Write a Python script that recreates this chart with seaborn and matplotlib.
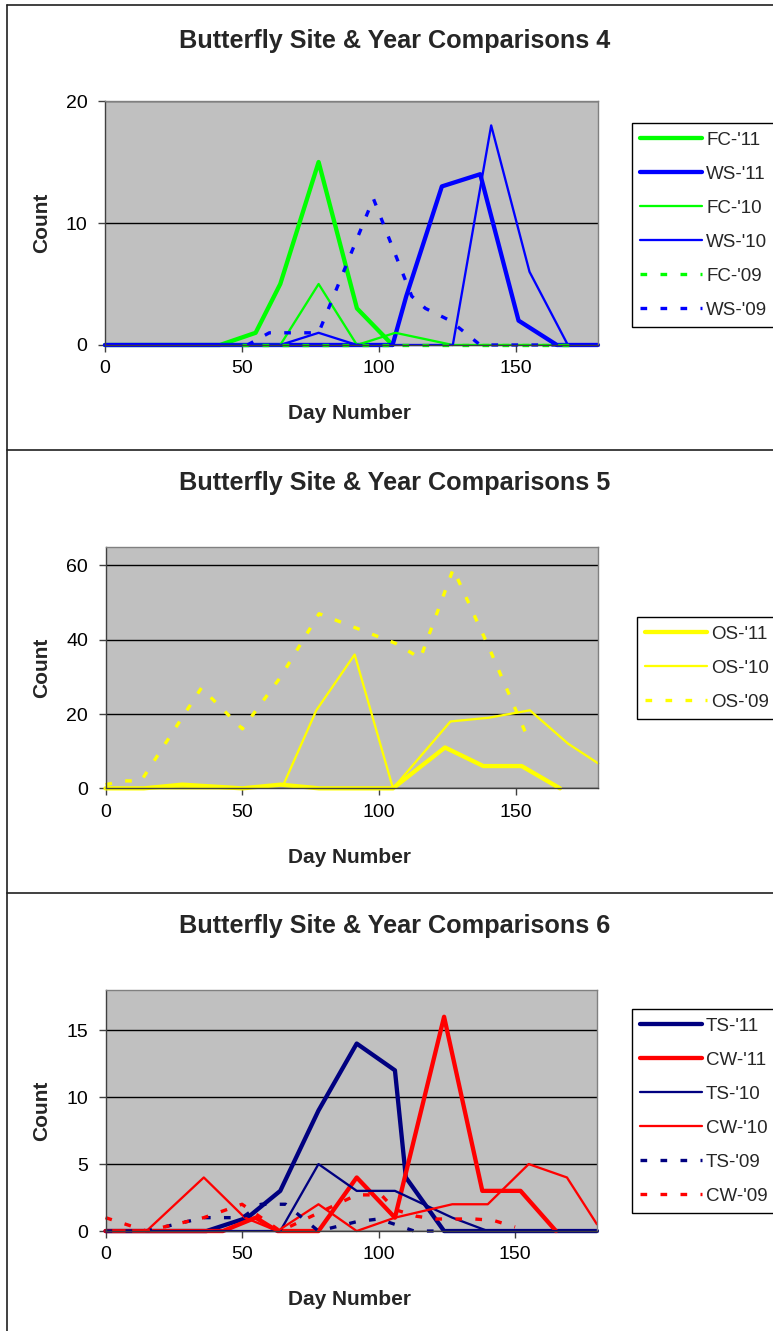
import numpy as np
import pandas as pd
import seaborn as sns
import matplotlib.pyplot as plt
from matplotlib.lines import Line2D

# --- chart 4 : FC / WS ---
fc11_day = [0, 14, 28, 42, 55, 64, 78, 92, 105]
fc11_cnt = [0, 0, 0, 0, 1, 5, 15, 3, 0]
ws11_day = [0, 14, 28, 42, 55, 64, 78, 92, 105, 110, 123, 137, 151, 165, 180]
ws11_cnt = [0, 0, 0, 0, 0, 0, 0, 0, 0, 4, 13, 14, 2, 0, 0]
fc10_day = [42, 55, 64, 78, 92, 106, 127, 141, 155, 169]
fc10_cnt = [0, 0, 0, 5, 0, 1, 0, 0, 0, 0]
ws10_day = [0, 14, 28, 42, 55, 64, 78, 92, 106, 127, 141, 155, 169, 180]
ws10_cnt = [0, 0, 0, 0, 0, 0, 1, 0, 0, 0, 18, 6, 0, 0]
fc09_day = [50, 57, 64, 78, 92, 106, 120, 134, 148, 162, 170]
fc09_cnt = [0, 0, 0, 0, 0, 0, 0, 0, 0, 0, 0]
ws09_day = [52, 60, 74, 78, 98, 112, 117, 126, 137, 150, 170]
ws09_cnt = [0, 1, 1, 1, 12, 4, 3, 2, 0, 0, 0]

# --- chart 5 : OS ---
os11_day = [0, 14, 28, 50, 64, 78, 92, 105, 124, 138, 152, 166]
os11_cnt = [0, 0, 1, 0, 1, 0, 0, 0, 11, 6, 6, 0]
os10_day = [0, 14, 28, 50, 65, 77, 91, 105, 126, 140, 155, 169, 180]
os10_cnt = [0, 0, 0, 0, 1, 21, 36, 0, 18, 19, 21, 12, 6.7]
os09_day = [0, 7, 13, 35, 50, 64, 78, 92, 106, 115, 127, 140, 154]
os09_cnt = [1, 2, 2, 27, 16, 30, 47, 43, 39, 35, 59, 38, 14]

# --- chart 6 : TS / CW ---
ts11_day = [0, 15, 37, 52, 64, 78, 92, 106, 110, 124, 140, 155, 169, 180]
ts11_cnt = [0, 0, 0, 1, 3, 9, 14, 12, 4, 0, 0, 0, 0, 0]
cw11_day = [0, 15, 29, 43, 55, 63, 78, 92, 106, 124, 138, 152, 165]
cw11_cnt = [0, 0, 0, 0, 1, 0, 0, 4, 1, 16, 3, 3, 0]
ts10_day = [0, 15, 37, 52, 64, 78, 92, 106, 127, 140, 155, 169, 180]
ts10_cnt = [0, 0, 0, 0, 0, 5, 3, 3, 1, 0, 0, 0, 0]
cw10_day = [0, 15, 36, 51, 63, 78, 92, 106, 127, 140, 155, 169, 180]
cw10_cnt = [0, 0, 4, 1, 0, 2, 0, 1, 2, 2, 5, 4, 0.5]
ts09_day = [0, 15, 36, 50, 57, 66, 78, 92, 100, 106, 113, 127, 141, 150]
ts09_cnt = [0, 0, 1, 1, 2, 2, 0, 0.7, 0.9, 0.5, 0, 0, 0, 0]
cw09_day = [0, 15, 36, 50, 57, 64, 92, 101, 106, 114, 121, 135, 142, 150]
cw09_cnt = [1, 0, 1, 2, 1, 0, 2.7, 2.7, 1.6, 1.1, 0.9, 0.9, 0.8, 0.3]

GREEN, BLUE, YELLOW, NAVY, RED = '#00FF00', '#0000FF', '#FFFF00', '#000080', '#FF0000'

sns.set_theme(style="white")
plt.rcParams['font.family'] = ['Liberation Sans', 'DejaVu Sans']

THICK, THIN, DASHW = 3.1, 1.65, 2.4
styles = {'thick': (THICK, '-'), 'thin': (THIN, '-'), 'dash': (DASHW, (0, (2.0, 4.0)))}

fig = plt.figure(figsize=(7.73, 13.31), dpi=100)


def draw_panel(rect, title, title_y, xlab_y, series, ymax, yticks, leg_xy):
    ax = fig.add_axes(rect)
    ax.set_facecolor('#C0C0C0')
    for lab, days, cnts, col, kind in series:
        lw, ls = styles[kind]
        df = pd.DataFrame({'Day': days, 'Count': cnts})
        sns.lineplot(data=df, x='Day', y='Count', ax=ax, color=col, linewidth=lw,
                     linestyle=ls, label=lab, errorbar=None, clip_on=False)
    ax.set_xlim(0, 180)
    ax.set_ylim(0, ymax)
    ax.set_xticks([0, 50, 100, 150])
    ax.set_yticks(yticks)
    ax.yaxis.grid(True, color='black', linewidth=1)
    ax.set_axisbelow(True)
    for s in ax.spines.values():
        s.set_color('#808080')
        s.set_linewidth(1)
    ax.spines['left'].set_color('#404040')
    ax.spines['bottom'].set_color('#404040')
    ax.tick_params(axis='both', direction='out', length=5, width=1, color='#404040',
                   labelsize=14, labelcolor='black', bottom=True, left=True)
    ax.tick_params(axis='y', pad=7.5)
    ax.tick_params(axis='x', pad=6)
    ax.set_xlabel('')
    ax.set_ylabel('')
    fig.text(0.511, title_y, title, ha='center', va='center', fontsize=18.2, fontweight='bold')
    fig.text(0.452, xlab_y, 'Day Number', ha='center', va='center', fontsize=15, fontweight='bold')
    fig.text(0.0543, rect[1] + rect[3] / 2, 'Count', ha='center', va='center',
             rotation=90, fontsize=15, fontweight='bold')
    leg = ax.legend(loc='upper left', bbox_to_anchor=leg_xy, bbox_transform=fig.transFigure,
                    frameon=True, fancybox=False, framealpha=1, edgecolor='black',
                    fontsize=13.5, handlelength=3.3, handletextpad=0.2,
                    labelspacing=0.9, borderpad=0.45, borderaxespad=0)
    leg.get_frame().set_linewidth(1)
    return ax


draw_panel([0.1358, 0.7408, 0.6378, 0.1833], 'Butterfly Site & Year Comparisons 4', 0.9695, 0.6897,
           [("FC-'11", fc11_day, fc11_cnt, GREEN, 'thick'),
            ("WS-'11", ws11_day, ws11_cnt, BLUE, 'thick'),
            ("FC-'10", fc10_day, fc10_cnt, GREEN, 'thin'),
            ("WS-'10", ws10_day, ws10_cnt, BLUE, 'thin'),
            ("FC-'09", fc09_day, fc09_cnt, GREEN, 'dash'),
            ("WS-'09", ws09_day, ws09_cnt, BLUE, 'dash')],
           20, [0, 10, 20], (0.8176, 0.9076))

draw_panel([0.1365, 0.4077, 0.6375, 0.1815], 'Butterfly Site & Year Comparisons 5', 0.6370, 0.3561,
           [("OS-'11", os11_day, os11_cnt, YELLOW, 'thick'),
            ("OS-'10", os10_day, os10_cnt, YELLOW, 'thin'),
            ("OS-'09", os09_day, os09_cnt, YELLOW, 'dash')],
           65, [0, 20, 40, 60], (0.8237, 0.5364))

draw_panel([0.1365, 0.0751, 0.6358, 0.1811], 'Butterfly Site & Year Comparisons 6', 0.3040, 0.0233,
           [("TS-'11", ts11_day, ts11_cnt, NAVY, 'thick'),
            ("CW-'11", cw11_day, cw11_cnt, RED, 'thick'),
            ("TS-'10", ts10_day, ts10_cnt, NAVY, 'thin'),
            ("CW-'10", cw10_day, cw10_cnt, RED, 'thin'),
            ("TS-'09", ts09_day, ts09_cnt, NAVY, 'dash'),
            ("CW-'09", cw09_day, cw09_cnt, RED, 'dash')],
           18, [0, 5, 10, 15], (0.8176, 0.2419))

# chart borders
bx, by = 7.5 / 773, 1 - 5 / 1331
for yy in [by, 1 - 450 / 1331, 1 - 893 / 1331]:
    fig.add_artist(Line2D([bx, 1], [yy, yy], color='#202020', lw=1.2, transform=fig.transFigure))
fig.add_artist(Line2D([bx, bx], [0, by], color='#202020', lw=1.2, transform=fig.transFigure))

fig.savefig('out.png', dpi=100)
